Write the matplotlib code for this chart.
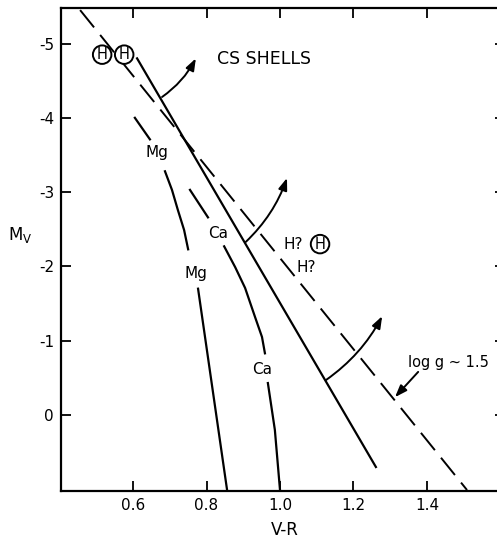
import numpy as np
import matplotlib
matplotlib.use("Agg")
import matplotlib.pyplot as plt
from matplotlib.patches import FancyArrowPatch

plt.rcParams['font.family'] = 'DejaVu Sans'
plt.rcParams['axes.unicode_minus'] = False
plt.rcParams['lines.scale_dashes'] = False

nan = np.nan

# log g ~ 1.5 boundary (dashed)
logg_vr = [0.456, 1.509]
logg_mv = [-5.45, 1.01]

# CS shells boundary (solid)
cs_vr = [0.611, 1.261]
cs_mv = [-4.80, 0.70]

# Mg and Ca lines (nan = gap where the label sits)
mg_vr = [0.605, 0.646, nan, 0.687, 0.706, 0.722, 0.739, 0.750, nan, 0.777, 0.856]
mg_mv = [-4.00, -3.71, nan, -3.28, -3.03, -2.76, -2.49, -2.23, nan, -1.70, 1.01]
ca_vr = [0.755, 0.804, nan, 0.848, 0.878, 0.905, 0.932, 0.951, 0.959, nan, 0.967, 0.986, 1.000]
ca_mv = [-3.03, -2.66, nan, -2.27, -1.99, -1.71, -1.32, -1.05, -0.83, nan, -0.43, 0.20, 1.01]

# curved arrows off the CS boundary
arrow_from = [(0.679, -4.28), (0.907, -2.33), (1.125, -0.47)]
arrow_to = [(0.771, -4.80), (1.019, -3.19), (1.278, -1.33)]

# circled H's
h_vr = [0.516, 0.576, 1.109]
h_mv = [-4.85, -4.85, -2.30]

# text labels
lab_text = ['Mg', 'Mg', 'Ca', 'Ca']
lab_vr = [0.665, 0.771, 0.831, 0.951]
lab_mv = [-3.53, -1.91, -2.44, -0.61]

x_ticks = [0.6, 0.8, 1.0, 1.2, 1.4]
y_ticks = [-5, -4, -3, -2, -1, 0]

fig = plt.figure(figsize=(4.97, 5.39), dpi=100)
ax = fig.add_axes([61 / 497, 48 / 539, 438 / 497, 483 / 539])

ax.plot(logg_vr, logg_mv, color='k', lw=1.4, dashes=(16, 7))
ax.plot(cs_vr, cs_mv, color='k', lw=1.6)
ax.plot(mg_vr, mg_mv, color='k', lw=1.6)
ax.plot(ca_vr, ca_mv, color='k', lw=1.6)

for p0, p1 in zip(arrow_from, arrow_to):
    ax.add_patch(FancyArrowPatch(p0, p1, connectionstyle='arc3,rad=0.12',
                                 arrowstyle='-|>,head_length=0.6,head_width=0.22',
                                 mutation_scale=12, color='k', lw=1.4,
                                 shrinkA=0, shrinkB=0))

# arrow from the log g label to the dashed line
ax.add_patch(FancyArrowPatch((1.376, -0.58), (1.313, -0.24),
                             arrowstyle='-|>,head_length=0.6,head_width=0.22',
                             mutation_scale=12, color='k', lw=1.4,
                             shrinkA=0, shrinkB=0))

for x, y in zip(h_vr, h_mv):
    ax.text(x, y, 'H', ha='center', va='center', fontsize=10.5, zorder=5,
            bbox=dict(boxstyle='circle,pad=0.12', fc='white', ec='k', lw=1.4))

for t, x, y in zip(lab_text, lab_vr, lab_mv):
    ax.text(x, y, t, ha='center', va='center', fontsize=11)

ax.text(0.829, -4.79, 'CS SHELLS', ha='left', va='center', fontsize=12.5)
ax.text(1.035, -2.30, 'H?', ha='center', va='center', fontsize=11)
ax.text(1.071, -1.99, 'H?', ha='center', va='center', fontsize=11)
ax.text(1.348, -0.71, 'log g ~ 1.5', ha='left', va='center', fontsize=10.5)

ax.set_xlim(0.404, 1.596)
ax.set_ylim(1.023, -5.478)
ax.set_xticks(x_ticks)
ax.set_yticks(y_ticks)
ax.tick_params(direction='in', length=7, width=1.3, top=True, right=True,
               labelsize=11, pad=5)
for tk in ax.yaxis.get_major_ticks():
    tk.tick2line.set_markersize(3)
for s in ax.spines.values():
    s.set_linewidth(1.6)

ax.text(0.511, -0.081, 'V-R', transform=ax.transAxes, ha='center', va='center', fontsize=12)
ax.text(-0.094, 0.53, r'M$_\mathregular{V}$', transform=ax.transAxes,
        ha='center', va='center', fontsize=12)

fig.savefig('out.png', dpi=100)
